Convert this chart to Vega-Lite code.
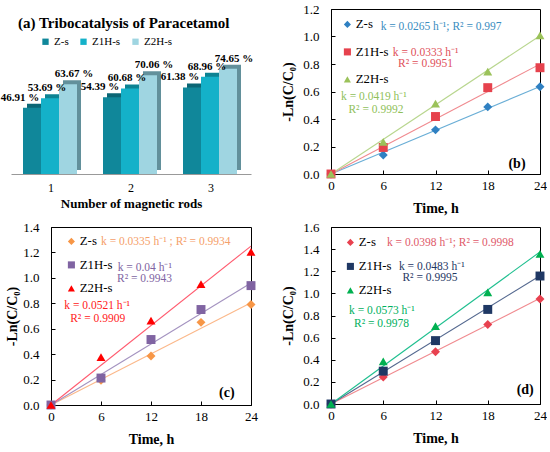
{
  "$schema": "https://vega.github.io/schema/vega-lite/v6.json",
  "padding": {"left": 0, "top": 2, "right": 0, "bottom": 0},
  "background": "white",
  "spacing": 4,
  "config": {
    "font": "Liberation Serif",
    "view": {"stroke": "#000", "strokeWidth": 1},
    "axis": {
      "grid": false,
      "labelColor": "#000",
      "titleColor": "#000",
      "domainColor": "#000",
      "tickColor": "#000",
      "labelFontSize": 13,
      "titleFontSize": 14,
      "titleFontWeight": "bold",
      "tickSize": -4,
      "labelFlush": false
    },
    "axisX": {"labelPadding": 9, "titlePadding": 9},
    "axisY": {"labelPadding": 16, "titlePadding": 7},
    "legend": {"title": null, "padding": 0, "labelColor": "#000", "labelFontSize": 12.8, "labelOffset": 2, "symbolStrokeWidth": 0}
  },
  "datasets": {
    "bars": [
      {"rods": "1", "catalyst": "Z-s", "removal": 46.91},
      {"rods": "1", "catalyst": "Z1H-s", "removal": 53.69},
      {"rods": "1", "catalyst": "Z2H-s", "removal": 63.67},
      {"rods": "2", "catalyst": "Z-s", "removal": 54.39},
      {"rods": "2", "catalyst": "Z1H-s", "removal": 60.68},
      {"rods": "2", "catalyst": "Z2H-s", "removal": 70.06},
      {"rods": "3", "catalyst": "Z-s", "removal": 61.38},
      {"rods": "3", "catalyst": "Z1H-s", "removal": 68.96},
      {"rods": "3", "catalyst": "Z2H-s", "removal": 74.65}
    ],
    "kinetics": [
      {"panel": "b", "kind": "obs", "series": "Z-s", "t": 0, "value": 0}, {"panel": "b", "kind": "obs", "series": "Z-s", "t": 6, "value": 0.138}, {"panel": "b", "kind": "obs", "series": "Z-s", "t": 12, "value": 0.321}, {"panel": "b", "kind": "obs", "series": "Z-s", "t": 18, "value": 0.488}, {"panel": "b", "kind": "obs", "series": "Z-s", "t": 24, "value": 0.635},
      {"panel": "b", "kind": "obs", "series": "Z1H-s", "t": 0, "value": 0}, {"panel": "b", "kind": "obs", "series": "Z1H-s", "t": 6, "value": 0.193}, {"panel": "b", "kind": "obs", "series": "Z1H-s", "t": 12, "value": 0.418}, {"panel": "b", "kind": "obs", "series": "Z1H-s", "t": 18, "value": 0.628}, {"panel": "b", "kind": "obs", "series": "Z1H-s", "t": 24, "value": 0.773},
      {"panel": "b", "kind": "obs", "series": "Z2H-s", "t": 0, "value": 0}, {"panel": "b", "kind": "obs", "series": "Z2H-s", "t": 6, "value": 0.234}, {"panel": "b", "kind": "obs", "series": "Z2H-s", "t": 12, "value": 0.512}, {"panel": "b", "kind": "obs", "series": "Z2H-s", "t": 18, "value": 0.744}, {"panel": "b", "kind": "obs", "series": "Z2H-s", "t": 24, "value": 1.009},
      {"panel": "b", "kind": "fit", "series": "Z-s", "t": 0, "value": 0}, {"panel": "b", "kind": "fit", "series": "Z-s", "t": 24, "value": 0.636},
      {"panel": "b", "kind": "fit", "series": "Z1H-s", "t": 0, "value": 0}, {"panel": "b", "kind": "fit", "series": "Z1H-s", "t": 24, "value": 0.799},
      {"panel": "b", "kind": "fit", "series": "Z2H-s", "t": 0, "value": 0}, {"panel": "b", "kind": "fit", "series": "Z2H-s", "t": 24, "value": 1.006},
      {"panel": "c", "kind": "obs", "series": "Z-s", "t": 0, "value": 0}, {"panel": "c", "kind": "obs", "series": "Z-s", "t": 6, "value": 0.194}, {"panel": "c", "kind": "obs", "series": "Z-s", "t": 12, "value": 0.385}, {"panel": "c", "kind": "obs", "series": "Z-s", "t": 18, "value": 0.65}, {"panel": "c", "kind": "obs", "series": "Z-s", "t": 24, "value": 0.79},
      {"panel": "c", "kind": "obs", "series": "Z1H-s", "t": 0, "value": 0}, {"panel": "c", "kind": "obs", "series": "Z1H-s", "t": 6, "value": 0.212}, {"panel": "c", "kind": "obs", "series": "Z1H-s", "t": 12, "value": 0.515}, {"panel": "c", "kind": "obs", "series": "Z1H-s", "t": 18, "value": 0.751}, {"panel": "c", "kind": "obs", "series": "Z1H-s", "t": 24, "value": 0.939},
      {"panel": "c", "kind": "obs", "series": "Z2H-s", "t": 0, "value": 0}, {"panel": "c", "kind": "obs", "series": "Z2H-s", "t": 6, "value": 0.377}, {"panel": "c", "kind": "obs", "series": "Z2H-s", "t": 12, "value": 0.663}, {"panel": "c", "kind": "obs", "series": "Z2H-s", "t": 18, "value": 0.95}, {"panel": "c", "kind": "obs", "series": "Z2H-s", "t": 24, "value": 1.204},
      {"panel": "c", "kind": "fit", "series": "Z-s", "t": 0, "value": 0}, {"panel": "c", "kind": "fit", "series": "Z-s", "t": 24, "value": 0.804},
      {"panel": "c", "kind": "fit", "series": "Z1H-s", "t": 0, "value": 0}, {"panel": "c", "kind": "fit", "series": "Z1H-s", "t": 24, "value": 0.96},
      {"panel": "c", "kind": "fit", "series": "Z2H-s", "t": 0, "value": 0}, {"panel": "c", "kind": "fit", "series": "Z2H-s", "t": 24, "value": 1.25},
      {"panel": "d", "kind": "obs", "series": "Z-s", "t": 0, "value": 0}, {"panel": "d", "kind": "obs", "series": "Z-s", "t": 6, "value": 0.243}, {"panel": "d", "kind": "obs", "series": "Z-s", "t": 12, "value": 0.472}, {"panel": "d", "kind": "obs", "series": "Z-s", "t": 18, "value": 0.718}, {"panel": "d", "kind": "obs", "series": "Z-s", "t": 24, "value": 0.95},
      {"panel": "d", "kind": "obs", "series": "Z1H-s", "t": 0, "value": 0}, {"panel": "d", "kind": "obs", "series": "Z1H-s", "t": 6, "value": 0.297}, {"panel": "d", "kind": "obs", "series": "Z1H-s", "t": 12, "value": 0.573}, {"panel": "d", "kind": "obs", "series": "Z1H-s", "t": 18, "value": 0.855}, {"panel": "d", "kind": "obs", "series": "Z1H-s", "t": 24, "value": 1.157},
      {"panel": "d", "kind": "obs", "series": "Z2H-s", "t": 0, "value": 0}, {"panel": "d", "kind": "obs", "series": "Z2H-s", "t": 6, "value": 0.386}, {"panel": "d", "kind": "obs", "series": "Z2H-s", "t": 12, "value": 0.703}, {"panel": "d", "kind": "obs", "series": "Z2H-s", "t": 18, "value": 1.009}, {"panel": "d", "kind": "obs", "series": "Z2H-s", "t": 24, "value": 1.356},
      {"panel": "d", "kind": "fit", "series": "Z-s", "t": 0, "value": 0}, {"panel": "d", "kind": "fit", "series": "Z-s", "t": 24, "value": 0.955},
      {"panel": "d", "kind": "fit", "series": "Z1H-s", "t": 0, "value": 0}, {"panel": "d", "kind": "fit", "series": "Z1H-s", "t": 24, "value": 1.159},
      {"panel": "d", "kind": "fit", "series": "Z2H-s", "t": 0, "value": 0}, {"panel": "d", "kind": "fit", "series": "Z2H-s", "t": 24, "value": 1.375}
    ]
  },
  "resolve": {"scale": {"color": "independent", "stroke": "independent", "shape": "independent", "xOffset": "independent"}},
  "vconcat": [
    {
      "bounds": "flush",
      "spacing": 80,
      "resolve": {"scale": {"color": "independent", "stroke": "independent", "shape": "independent", "xOffset": "independent"}},
      "hconcat": [
        {
          "width": 200,
          "height": 165,
          "view": {"stroke": null},
          "title": {"text": "(a) Tribocatalysis of Paracetamol", "anchor": "start", "frame": "group", "fontSize": 15, "fontWeight": "bold", "color": "#000", "offset": -22, "dx": -33},
          "data": {"name": "bars"},
          "transform": [{"calculate": "format(datum.removal, '.2f') + ' %'", "as": "label"}],
          "encoding": {
            "x": {
              "field": "rods", "type": "nominal",
              "scale": {"range": [-40, 200], "paddingInner": 0.3, "paddingOuter": 0.15},
              "axis": {"title": "Number of magnetic rods", "labelAngle": 0, "labelFontSize": 12, "ticks": false, "domainColor": "#999", "labelPadding": 8, "titlePadding": 4, "titleFontSize": 13}
            },
            "y": {"field": "removal", "type": "quantitative", "scale": {"domain": [0, 117], "nice": false}, "axis": null}
          },
          "layer": [
            {
              "mark": {"type": "bar", "yOffset": -4},
              "encoding": {
                "xOffset": {"field": "catalyst", "sort": ["Z-s", "Z1H-s", "Z2H-s"], "scale": {"range": [4, 58], "paddingInner": 0, "paddingOuter": 0}},
                "color": {"field": "catalyst", "scale": {"domain": ["Z-s", "Z1H-s", "Z2H-s"], "range": ["#0b6675", "#0c8393", "#62909b"]}, "legend": null}
              }
            },
            {
              "mark": {"type": "bar"},
              "encoding": {
                "xOffset": {"field": "catalyst", "sort": ["Z-s", "Z1H-s", "Z2H-s"], "scale": {"range": [0, 54], "paddingInner": 0, "paddingOuter": 0}},
                "color": {
                  "field": "catalyst",
                  "scale": {"domain": ["Z-s", "Z1H-s", "Z2H-s"], "range": ["#10879a", "#14b1c9", "#9fd5e1"]},
                  "legend": {"orient": "none", "legendX": -11, "legendY": 27, "direction": "horizontal", "symbolType": "square", "symbolSize": 40, "labelFontSize": 11, "labelOffset": 3, "columnPadding": 9}
                }
              }
            },
            {
              "mark": {"type": "text", "align": "center", "baseline": "bottom", "dy": -5, "fontSize": 11, "fontWeight": "bold", "color": "#000"},
              "encoding": {
                "xOffset": {"field": "catalyst", "sort": ["Z-s", "Z1H-s", "Z2H-s"], "scale": {"range": [-3, 51], "paddingInner": 0, "paddingOuter": 0}},
                "text": {"field": "label"}
              }
            }
          ],
          "resolve": {"scale": {"xOffset": "independent", "color": "independent"}}
        },
        {
          "width": 209,
          "height": 165,
          "data": {"name": "kinetics"},
          "transform": [{"filter": "datum.panel == 'b'"}],
          "encoding": {
            "x": {"field": "t", "type": "quantitative", "scale": {"domain": [0, 24], "nice": false}, "axis": {"values": [0, 6, 12, 18, 24], "title": "Time, h"}},
            "y": {"field": "value", "type": "quantitative", "scale": {"domain": [0, 1.2], "nice": false}, "axis": {"values": [0, 0.2, 0.4, 0.6, 0.8, 1.0, 1.2], "format": ".1f", "title": "-Ln(C/C₀)"}}
          },
          "layer": [
            {
              "transform": [{"filter": "datum.kind == 'fit'"}],
              "mark": {"type": "line", "strokeWidth": 1.1},
              "encoding": {"stroke": {"field": "series", "scale": {"domain": ["Z-s", "Z1H-s", "Z2H-s"], "range": ["#6aaed6", "#f08a8f", "#b8d68e"]}, "legend": null}}
            },
            {
              "transform": [{"filter": "datum.kind == 'obs'"}],
              "mark": {"type": "point", "filled": true, "size": 80, "opacity": 1},
              "encoding": {
                "color": {"field": "series", "scale": {"domain": ["Z-s", "Z1H-s", "Z2H-s"], "range": ["#2f80c2", "#e6424d", "#9bc25a"]}, "legend": {"orient": "none", "legendX": 10, "legendY": 9, "rowPadding": 13.5, "symbolSize": 50}},
                "shape": {"field": "series", "scale": {"domain": ["Z-s", "Z1H-s", "Z2H-s"], "range": ["diamond", "square", "triangle-up"]}, "legend": {"orient": "none", "legendX": 10, "legendY": 9, "rowPadding": 13.5, "symbolSize": 50}}
              }
            },
            {"transform": [{"filter": "datum.kind == 'fit' && datum.t == 0 && datum.series == 'Z-s'"}], "mark": {"type": "text", "text": "k = 0.0265 h⁻¹; R² = 0.997", "color": "#3a8dc0", "align": "left", "fontSize": 11.5}, "encoding": {"x": {"datum": 5.7}, "y": {"datum": 1.069}}},
            {"transform": [{"filter": "datum.kind == 'fit' && datum.t == 0 && datum.series == 'Z-s'"}], "mark": {"type": "text", "text": "k = 0.0333 h⁻¹", "color": "#e0505a", "align": "left", "fontSize": 11.5}, "encoding": {"x": {"datum": 7.1}, "y": {"datum": 0.877}}},
            {"transform": [{"filter": "datum.kind == 'fit' && datum.t == 0 && datum.series == 'Z-s'"}], "mark": {"type": "text", "text": "R² = 0.9951", "color": "#e0505a", "align": "left", "fontSize": 11.5}, "encoding": {"x": {"datum": 7.7}, "y": {"datum": 0.797}}},
            {"transform": [{"filter": "datum.kind == 'fit' && datum.t == 0 && datum.series == 'Z-s'"}], "mark": {"type": "text", "text": "k = 0.0419 h⁻¹", "color": "#8fbf5a", "align": "left", "fontSize": 11.5}, "encoding": {"x": {"datum": 1.15}, "y": {"datum": 0.56}}},
            {"transform": [{"filter": "datum.kind == 'fit' && datum.t == 0 && datum.series == 'Z-s'"}], "mark": {"type": "text", "text": "R² = 0.9992", "color": "#8fbf5a", "align": "left", "fontSize": 11.5}, "encoding": {"x": {"datum": 2.0}, "y": {"datum": 0.465}}},
            {"transform": [{"filter": "datum.kind == 'fit' && datum.t == 0 && datum.series == 'Z-s'"}], "mark": {"type": "text", "text": "(b)", "align": "center", "fontSize": 14, "fontWeight": "bold", "color": "#000"}, "encoding": {"x": {"datum": 21.36}, "y": {"datum": 0.073}}}
          ],
          "resolve": {"scale": {"stroke": "independent"}}
        }
      ]
    },
    {
      "bounds": "flush",
      "spacing": 80,
      "resolve": {"scale": {"color": "independent", "stroke": "independent", "shape": "independent"}},
      "hconcat": [
        {
          "width": 200,
          "height": 178,
          "data": {"name": "kinetics"},
          "transform": [{"filter": "datum.panel == 'c'"}],
          "encoding": {
            "x": {"field": "t", "type": "quantitative", "scale": {"domain": [0, 24], "nice": false}, "axis": {"values": [0, 6, 12, 18, 24], "title": "Time, h"}},
            "y": {"field": "value", "type": "quantitative", "scale": {"domain": [0, 1.4], "nice": false}, "axis": {"values": [0, 0.2, 0.4, 0.6, 0.8, 1.0, 1.2, 1.4], "format": ".1f", "title": "-Ln(C/C₀)", "titlePadding": 3}}
          },
          "layer": [
            {
              "transform": [{"filter": "datum.kind == 'fit'"}],
              "mark": {"type": "line", "strokeWidth": 1.1},
              "encoding": {"stroke": {"field": "series", "scale": {"domain": ["Z-s", "Z1H-s", "Z2H-s"], "range": ["#fbb88a", "#a493c0", "#ff5a6e"]}, "legend": null}}
            },
            {
              "transform": [{"filter": "datum.kind == 'obs'"}],
              "mark": {"type": "point", "filled": true, "size": 80, "opacity": 1},
              "encoding": {
                "color": {"field": "series", "scale": {"domain": ["Z-s", "Z1H-s", "Z2H-s"], "range": ["#f79646", "#8064a2", "#ff0000"]}, "legend": {"orient": "none", "legendX": 14, "legendY": 8, "rowPadding": 9.5, "symbolSize": 50}},
                "shape": {"field": "series", "scale": {"domain": ["Z-s", "Z1H-s", "Z2H-s"], "range": ["diamond", "square", "triangle-up"]}, "legend": {"orient": "none", "legendX": 14, "legendY": 8, "rowPadding": 9.5, "symbolSize": 50}}
              }
            },
            {"transform": [{"filter": "datum.kind == 'fit' && datum.t == 0 && datum.series == 'Z-s'"}], "mark": {"type": "text", "text": "k = 0.0335 h⁻¹ ; R² = 0.9934", "color": "#f5a06a", "align": "left", "fontSize": 11.5}, "encoding": {"x": {"datum": 6.0}, "y": {"datum": 1.282}}},
            {"transform": [{"filter": "datum.kind == 'fit' && datum.t == 0 && datum.series == 'Z-s'"}], "mark": {"type": "text", "text": "k = 0.04 h⁻¹", "color": "#8064a2", "align": "left", "fontSize": 11.5}, "encoding": {"x": {"datum": 8.0}, "y": {"datum": 1.076}}},
            {"transform": [{"filter": "datum.kind == 'fit' && datum.t == 0 && datum.series == 'Z-s'"}], "mark": {"type": "text", "text": "R² = 0.9943", "color": "#8064a2", "align": "left", "fontSize": 11.5}, "encoding": {"x": {"datum": 7.92}, "y": {"datum": 0.989}}},
            {"transform": [{"filter": "datum.kind == 'fit' && datum.t == 0 && datum.series == 'Z-s'"}], "mark": {"type": "text", "text": "k = 0.0521 h⁻¹", "color": "#ff2020", "align": "left", "fontSize": 11.5}, "encoding": {"x": {"datum": 1.6}, "y": {"datum": 0.775}}},
            {"transform": [{"filter": "datum.kind == 'fit' && datum.t == 0 && datum.series == 'Z-s'"}], "mark": {"type": "text", "text": "R² = 0.9909", "color": "#ff2020", "align": "left", "fontSize": 11.5}, "encoding": {"x": {"datum": 2.3}, "y": {"datum": 0.68}}},
            {"transform": [{"filter": "datum.kind == 'fit' && datum.t == 0 && datum.series == 'Z-s'"}], "mark": {"type": "text", "text": "(c)", "align": "center", "fontSize": 14, "fontWeight": "bold", "color": "#000"}, "encoding": {"x": {"datum": 21.1}, "y": {"datum": 0.095}}}
          ],
          "resolve": {"scale": {"stroke": "independent"}}
        },
        {
          "width": 209,
          "height": 177,
          "data": {"name": "kinetics"},
          "transform": [{"filter": "datum.panel == 'd'"}],
          "encoding": {
            "x": {"field": "t", "type": "quantitative", "scale": {"domain": [0, 24], "nice": false}, "axis": {"values": [0, 6, 12, 18, 24], "title": "Time, h"}},
            "y": {"field": "value", "type": "quantitative", "scale": {"domain": [0, 1.6], "nice": false}, "axis": {"values": [0, 0.2, 0.4, 0.6, 0.8, 1.0, 1.2, 1.4, 1.6], "format": ".1f", "title": "-Ln(C/C₀)"}}
          },
          "layer": [
            {
              "transform": [{"filter": "datum.kind == 'fit'"}],
              "mark": {"type": "line", "strokeWidth": 1.1},
              "encoding": {"stroke": {"field": "series", "scale": {"domain": ["Z-s", "Z1H-s", "Z2H-s"], "range": ["#f08a8f", "#54688f", "#1fbf8f"]}, "legend": null}}
            },
            {
              "transform": [{"filter": "datum.kind == 'obs'"}],
              "mark": {"type": "point", "filled": true, "size": 80, "opacity": 1},
              "encoding": {
                "color": {"field": "series", "scale": {"domain": ["Z-s", "Z1H-s", "Z2H-s"], "range": ["#e8414f", "#1f3864", "#00b050"]}, "legend": {"orient": "none", "legendX": 13, "legendY": 9, "rowPadding": 10, "symbolSize": 50}},
                "shape": {"field": "series", "scale": {"domain": ["Z-s", "Z1H-s", "Z2H-s"], "range": ["diamond", "square", "triangle-up"]}, "legend": {"orient": "none", "legendX": 13, "legendY": 9, "rowPadding": 10, "symbolSize": 50}}
              }
            },
            {"transform": [{"filter": "datum.kind == 'fit' && datum.t == 0 && datum.series == 'Z-s'"}], "mark": {"type": "text", "text": "k = 0.0398 h⁻¹; R² = 0.9998", "color": "#e05a6a", "align": "left", "fontSize": 11.5}, "encoding": {"x": {"datum": 6.43}, "y": {"datum": 1.456}}},
            {"transform": [{"filter": "datum.kind == 'fit' && datum.t == 0 && datum.series == 'Z-s'"}], "mark": {"type": "text", "text": "k = 0.0483 h⁻¹", "color": "#1f3864", "align": "left", "fontSize": 11.5}, "encoding": {"x": {"datum": 7.8}, "y": {"datum": 1.239}}},
            {"transform": [{"filter": "datum.kind == 'fit' && datum.t == 0 && datum.series == 'Z-s'"}], "mark": {"type": "text", "text": "R² = 0.9995", "color": "#1f3864", "align": "left", "fontSize": 11.5}, "encoding": {"x": {"datum": 8.2}, "y": {"datum": 1.139}}},
            {"transform": [{"filter": "datum.kind == 'fit' && datum.t == 0 && datum.series == 'Z-s'"}], "mark": {"type": "text", "text": "k = 0.0573 h⁻¹", "color": "#00b060", "align": "left", "fontSize": 11.5}, "encoding": {"x": {"datum": 2.07}, "y": {"datum": 0.841}}},
            {"transform": [{"filter": "datum.kind == 'fit' && datum.t == 0 && datum.series == 'Z-s'"}], "mark": {"type": "text", "text": "R² = 0.9978", "color": "#00b060", "align": "left", "fontSize": 11.5}, "encoding": {"x": {"datum": 2.64}, "y": {"datum": 0.723}}},
            {"transform": [{"filter": "datum.kind == 'fit' && datum.t == 0 && datum.series == 'Z-s'"}], "mark": {"type": "text", "text": "(d)", "align": "center", "fontSize": 14, "fontWeight": "bold", "color": "#000"}, "encoding": {"x": {"datum": 22.3}, "y": {"datum": 0.127}}}
          ],
          "resolve": {"scale": {"stroke": "independent"}}
        }
      ]
    }
  ]
}
